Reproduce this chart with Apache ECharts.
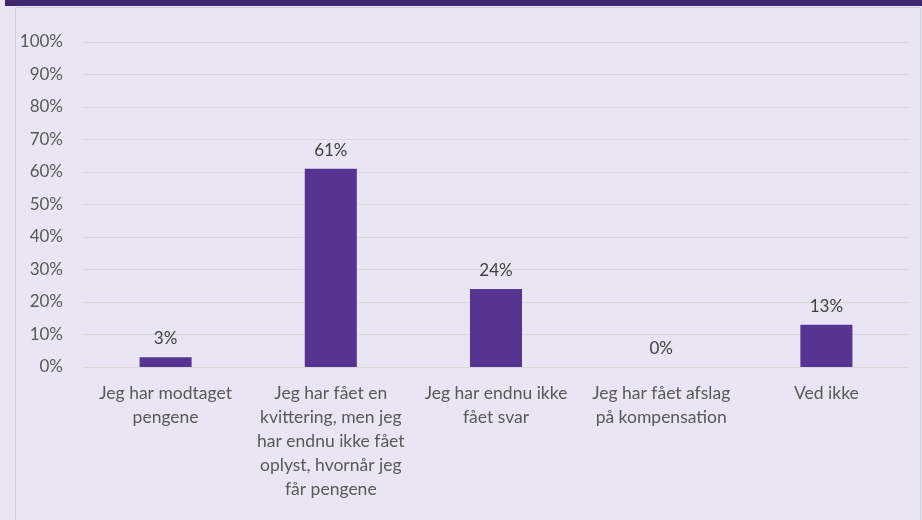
<!DOCTYPE html>
<html>
<head>
<meta charset="utf-8">
<script src="https://cdn.jsdelivr.net/npm/echarts@6/dist/echarts.min.js"></script>
<style>
html,body{margin:0;padding:0;background:#e9e5f4;}
#chart{width:922px;height:520px;}
</style>
</head>
<body>
<div id="chart"></div>
<script>
var categories = [
  "Jeg har modtaget\npengene",
  "Jeg har fået en\nkvittering, men jeg\nhar endnu ikke fået\noplyst, hvornår jeg\nfår pengene",
  "Jeg har endnu ikke\nfået svar",
  "Jeg har fået afslag\npå kompensation",
  "Ved ikke"
];
var values = [3, 61, 24, 0, 13];
var yTicks = [0, 10, 20, 30, 40, 50, 60, 70, 80, 90, 100];

var FONT = "Lato";
var chart = echarts.init(document.getElementById('chart'));
chart.setOption({
  backgroundColor: '#e9e5f4',
  animation: false,
  graphic: [
    {type:'rect', shape:{x:5, y:0, width:917, height:6}, style:{fill:'#40266e'}, silent:true},
    {type:'rect', shape:{x:15.5, y:7.5, width:905, height:530}, style:{fill:'none', stroke:'#d3d0dd', lineWidth:1}, silent:true}
  ],
  grid: {left:83, right:13, top:42, bottom:153, containLabel:false},
  xAxis: {
    type:'category',
    data: categories,
    axisLine:{show:true, lineStyle:{color:'#d9d9d9', width:1}},
    axisTick:{show:false},
    axisLabel:{color:'#595959', fontFamily:FONT, fontSize:17.5, lineHeight:24, margin:14, interval:0}
  },
  yAxis: {
    type:'value', min:yTicks[0], max:yTicks[yTicks.length-1], interval:10,
    axisLine:{show:false}, axisTick:{show:false},
    splitLine:{lineStyle:{color:'#d9d9d9', width:1}},
    axisLabel:{color:'#595959', fontFamily:FONT, fontSize:17, margin:20, formatter:function(v){return v+'%';}}
  },
  series: [{
    type:'bar',
    data: values,
    barWidth:'31.5%',
    itemStyle:{color:'#553492'},
    label:{show:true, position:'top', distance:10, color:'#404040', fontFamily:FONT, fontSize:17, formatter:function(p){return p.value+'%';}}
  }]
});
</script>
</body>
</html>
